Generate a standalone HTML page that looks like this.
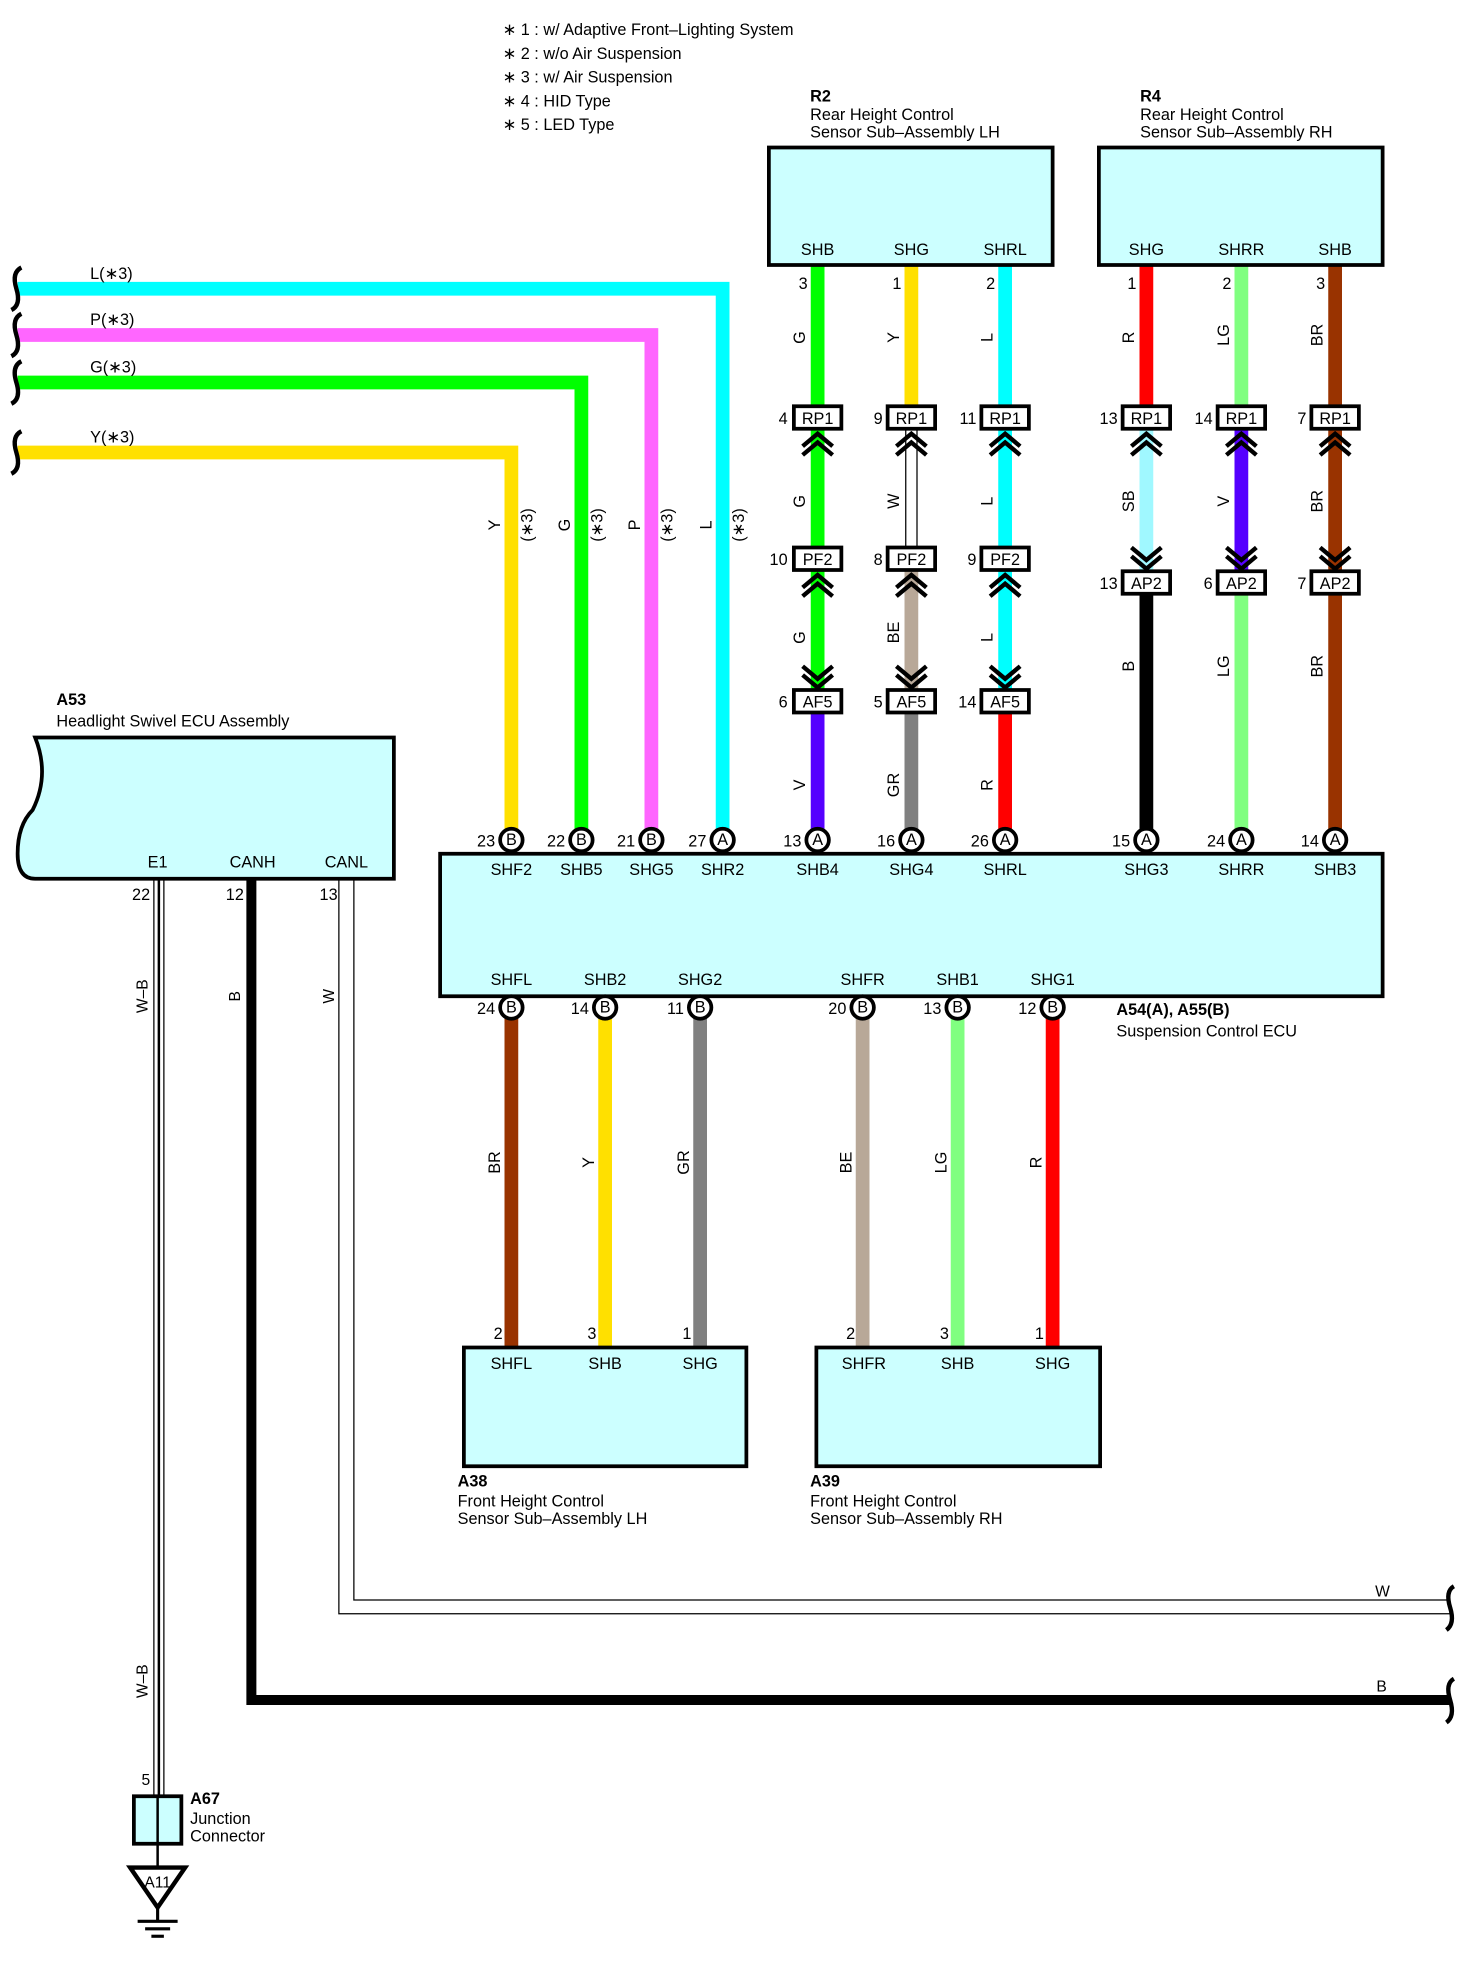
<!DOCTYPE html>
<html><head><meta charset="utf-8"><style>
html,body{margin:0;padding:0;background:#fff}
svg{display:block}
text{font-family:"Liberation Sans",Arial,sans-serif;font-size:13px;fill:#000}
.s{font-size:12.5px}
.b{font-weight:bold}
.c{text-anchor:middle}
.e{text-anchor:end}
</style></head><body>
<svg width="1479" height="1965" viewBox="0 0 1183 1572" xmlns="http://www.w3.org/2000/svg">
<!-- notes -->
<text x="402" y="28">∗ 1 : w/ Adaptive Front–Lighting System</text>
<text x="402" y="47">∗ 2 : w/o Air Suspension</text>
<text x="402" y="66">∗ 3 : w/ Air Suspension</text>
<text x="402" y="85">∗ 4 : HID Type</text>
<text x="402" y="104">∗ 5 : LED Type</text>

<!-- R2 / R4 titles -->
<text x="648" y="81" class="b">R2</text>
<text x="648" y="96">Rear Height Control</text>
<text x="648" y="110">Sensor Sub–Assembly LH</text>
<text x="912" y="81" class="b">R4</text>
<text x="912" y="96">Rear Height Control</text>
<text x="912" y="110">Sensor Sub–Assembly RH</text>

<!-- left horizontal wires -->
<g fill="none" stroke-width="11" stroke-linejoin="miter">
<path d="M14 231 H578 V666" stroke="#00ffff"/>
<path d="M14 268 H521 V666" stroke="#ff66ff"/>
<path d="M14 306 H465 V666" stroke="#00ff00"/>
<path d="M14 362 H409 V666" stroke="#ffe000"/>
</g>
<g fill="none" stroke="#000" stroke-width="3.5">
<path d="M17 214 q-8 4 -4 17 q4 13 -4 17"/>
<path d="M17 251 q-8 4 -4 17 q4 13 -4 17"/>
<path d="M17 289 q-8 4 -4 17 q4 13 -4 17"/>
<path d="M17 345 q-8 4 -4 17 q4 13 -4 17"/>
</g>
<text x="72" y="223">L(∗3)</text>
<text x="72" y="260">P(∗3)</text>
<text x="72" y="298">G(∗3)</text>
<text x="72" y="354">Y(∗3)</text>
<g class="s">
<text transform="translate(400,420) rotate(-90)" class="c">Y</text>
<text transform="translate(426,420) rotate(-90)" class="c">(∗3)</text>
<text transform="translate(456,420) rotate(-90)" class="c">G</text>
<text transform="translate(482,420) rotate(-90)" class="c">(∗3)</text>
<text transform="translate(512,420) rotate(-90)" class="c">P</text>
<text transform="translate(538,420) rotate(-90)" class="c">(∗3)</text>
<text transform="translate(569,420) rotate(-90)" class="c">L</text>
<text transform="translate(595,420) rotate(-90)" class="c">(∗3)</text>
</g>

<!-- R2/R4 vertical wires -->
<g stroke-width="11" fill="none">
<path d="M654 212 V334" stroke="#00ff00"/>
<path d="M654 334 V561" stroke="#00ff00"/>
<path d="M654 561 V666" stroke="#5500ff"/>
<path d="M729 212 V334" stroke="#ffe000"/>
<path d="M729 447 V561" stroke="#b8a898"/>
<path d="M729 561 V666" stroke="#808080"/>
<path d="M804 212 V561" stroke="#00ffff"/>
<path d="M804 561 V666" stroke="#ff0000"/>
<path d="M917 212 V334" stroke="#ff0000"/>
<path d="M917 334 V466" stroke="#a0f8ff"/>
<path d="M917 466 V666" stroke="#000"/>
<path d="M993 212 V334" stroke="#80ff80"/>
<path d="M993 334 V466" stroke="#5500ff"/>
<path d="M993 466 V666" stroke="#80ff80"/>
<path d="M1068 212 V666" stroke="#993300"/>
</g>
<!-- W wire -->
<rect x="724.5" y="340" width="9" height="110" fill="#fff" stroke="#000" stroke-width="1"/>

<!-- Boxes R2 R4 -->
<rect x="615" y="118" width="227" height="94" fill="#ccffff" stroke="#000" stroke-width="3"/>
<rect x="879" y="118" width="227" height="94" fill="#ccffff" stroke="#000" stroke-width="3"/>
<g class="c">
<text x="654" y="204">SHB</text><text x="729" y="204">SHG</text><text x="804" y="204">SHRL</text>
<text x="917" y="204">SHG</text><text x="993" y="204">SHRR</text><text x="1068" y="204">SHB</text>
</g>
<g class="s e">
<text x="646" y="231">3</text><text x="721" y="231">1</text><text x="796" y="231">2</text>
<text x="909" y="231">1</text><text x="985" y="231">2</text><text x="1060" y="231">3</text>
</g>
<!-- wire color labels -->
<g class="s c">
<text transform="translate(644,270) rotate(-90)">G</text>
<text transform="translate(719,270) rotate(-90)">Y</text>
<text transform="translate(794,270) rotate(-90)">L</text>
<text transform="translate(907,270) rotate(-90)">R</text>
<text transform="translate(983,268) rotate(-90)">LG</text>
<text transform="translate(1058,268) rotate(-90)">BR</text>
<text transform="translate(644,401) rotate(-90)">G</text>
<text transform="translate(719,401) rotate(-90)">W</text>
<text transform="translate(794,401) rotate(-90)">L</text>
<text transform="translate(907,401) rotate(-90)">SB</text>
<text transform="translate(983,401) rotate(-90)">V</text>
<text transform="translate(1058,401) rotate(-90)">BR</text>
<text transform="translate(644,510) rotate(-90)">G</text>
<text transform="translate(719,506) rotate(-90)">BE</text>
<text transform="translate(794,510) rotate(-90)">L</text>
<text transform="translate(907,533) rotate(-90)">B</text>
<text transform="translate(983,533) rotate(-90)">LG</text>
<text transform="translate(1058,533) rotate(-90)">BR</text>
<text transform="translate(644,628) rotate(-90)">V</text>
<text transform="translate(719,628) rotate(-90)">GR</text>
<text transform="translate(794,628) rotate(-90)">R</text>
</g>

<!-- chevrons -->
<g fill="none" stroke="#000" stroke-width="3.5">
<!-- up chevrons below RP1 and PF2 -->
<path d="M642 357 l12 -10 l12 10 M642 364 l12 -10 l12 10"/>
<path d="M717 357 l12 -10 l12 10 M717 364 l12 -10 l12 10"/>
<path d="M792 357 l12 -10 l12 10 M792 364 l12 -10 l12 10"/>
<path d="M905 357 l12 -10 l12 10 M905 364 l12 -10 l12 10"/>
<path d="M981 357 l12 -10 l12 10 M981 364 l12 -10 l12 10"/>
<path d="M1056 357 l12 -10 l12 10 M1056 364 l12 -10 l12 10"/>
<path d="M642 470 l12 -10 l12 10 M642 477 l12 -10 l12 10"/>
<path d="M717 470 l12 -10 l12 10 M717 477 l12 -10 l12 10"/>
<path d="M792 470 l12 -10 l12 10 M792 477 l12 -10 l12 10"/>
<!-- down chevrons above AF5 -->
<path d="M642 533 l12 10 l12 -10 M642 540 l12 10 l12 -10"/>
<path d="M717 533 l12 10 l12 -10 M717 540 l12 10 l12 -10"/>
<path d="M792 533 l12 10 l12 -10 M792 540 l12 10 l12 -10"/>
<!-- down chevrons above AP2 -->
<path d="M905 438 l12 10 l12 -10 M905 445 l12 10 l12 -10"/>
<path d="M981 438 l12 10 l12 -10 M981 445 l12 10 l12 -10"/>
<path d="M1056 438 l12 10 l12 -10 M1056 445 l12 10 l12 -10"/>
</g>

<!-- connector boxes -->
<g fill="#fff" stroke="#000" stroke-width="3">
<rect x="635" y="325" width="38" height="18"/><rect x="710" y="325" width="38" height="18"/><rect x="785" y="325" width="38" height="18"/>
<rect x="898" y="325" width="38" height="18"/><rect x="974" y="325" width="38" height="18"/><rect x="1049" y="325" width="38" height="18"/>
<rect x="635" y="438" width="38" height="18"/><rect x="710" y="438" width="38" height="18"/><rect x="785" y="438" width="38" height="18"/>
<rect x="635" y="552" width="38" height="18"/><rect x="710" y="552" width="38" height="18"/><rect x="785" y="552" width="38" height="18"/>
<rect x="898" y="457" width="38" height="18"/><rect x="974" y="457" width="38" height="18"/><rect x="1049" y="457" width="38" height="18"/>
</g>
<g class="c">
<text x="654" y="339">RP1</text><text x="729" y="339">RP1</text><text x="804" y="339">RP1</text>
<text x="917" y="339">RP1</text><text x="993" y="339">RP1</text><text x="1068" y="339">RP1</text>
<text x="654" y="452">PF2</text><text x="729" y="452">PF2</text><text x="804" y="452">PF2</text>
<text x="654" y="566">AF5</text><text x="729" y="566">AF5</text><text x="804" y="566">AF5</text>
<text x="917" y="471">AP2</text><text x="993" y="471">AP2</text><text x="1068" y="471">AP2</text>
</g>
<g class="e">
<text x="630" y="339">4</text><text x="706" y="339">9</text><text x="781" y="339">11</text>
<text x="894" y="339">13</text><text x="970" y="339">14</text><text x="1045" y="339">7</text>
<text x="630" y="452">10</text><text x="706" y="452">8</text><text x="781" y="452">9</text>
<text x="630" y="566">6</text><text x="706" y="566">5</text><text x="781" y="566">14</text>
<text x="894" y="471">13</text><text x="970" y="471">6</text><text x="1045" y="471">7</text>
</g>

<!-- Suspension ECU -->
<rect x="352" y="683" width="754" height="114" fill="#ccffff" stroke="#000" stroke-width="3"/>
<g class="c">
<text x="409" y="700">SHF2</text><text x="465" y="700">SHB5</text><text x="521" y="700">SHG5</text><text x="578" y="700">SHR2</text>
<text x="654" y="700">SHB4</text><text x="729" y="700">SHG4</text><text x="804" y="700">SHRL</text>
<text x="917" y="700">SHG3</text><text x="993" y="700">SHRR</text><text x="1068" y="700">SHB3</text>
<text x="409" y="788">SHFL</text><text x="484" y="788">SHB2</text><text x="560" y="788">SHG2</text>
<text x="690" y="788">SHFR</text><text x="766" y="788">SHB1</text><text x="842" y="788">SHG1</text>
</g>
<text x="893" y="812" class="b">A54(A), A55(B)</text>
<text x="893" y="829">Suspension Control ECU</text>

<!-- bottom wires -->
<g stroke-width="11" fill="none">
<path d="M409 806 V1078" stroke="#993300"/>
<path d="M484 806 V1078" stroke="#ffe000"/>
<path d="M560 806 V1078" stroke="#808080"/>
<path d="M690 806 V1078" stroke="#b8a898"/>
<path d="M766 806 V1078" stroke="#80ff80"/>
<path d="M842 806 V1078" stroke="#ff0000"/>
</g>
<g class="s c">
<text transform="translate(400,930) rotate(-90)">BR</text>
<text transform="translate(475,930) rotate(-90)">Y</text>
<text transform="translate(551,930) rotate(-90)">GR</text>
<text transform="translate(681,930) rotate(-90)">BE</text>
<text transform="translate(757,930) rotate(-90)">LG</text>
<text transform="translate(833,930) rotate(-90)">R</text>
</g>

<!-- pin circles -->
<g fill="#fff" stroke="#000" stroke-width="3">
<circle cx="409" cy="672" r="9"/><circle cx="465" cy="672" r="9"/><circle cx="521" cy="672" r="9"/><circle cx="578" cy="672" r="9"/>
<circle cx="654" cy="672" r="9"/><circle cx="729" cy="672" r="9"/><circle cx="804" cy="672" r="9"/>
<circle cx="917" cy="672" r="9"/><circle cx="993" cy="672" r="9"/><circle cx="1068" cy="672" r="9"/>
<circle cx="409" cy="806" r="9"/><circle cx="484" cy="806" r="9"/><circle cx="560" cy="806" r="9"/>
<circle cx="690" cy="806" r="9"/><circle cx="766" cy="806" r="9"/><circle cx="842" cy="806" r="9"/>
</g>
<g class="c" style="font-size:11px">
<text x="409" y="676">B</text><text x="465" y="676">B</text><text x="521" y="676">B</text><text x="578" y="676">A</text>
<text x="654" y="676">A</text><text x="729" y="676">A</text><text x="804" y="676">A</text>
<text x="917" y="676">A</text><text x="993" y="676">A</text><text x="1068" y="676">A</text>
<text x="409" y="810">B</text><text x="484" y="810">B</text><text x="560" y="810">B</text>
<text x="690" y="810">B</text><text x="766" y="810">B</text><text x="842" y="810">B</text>
</g>
<g class="e">
<text x="396" y="677">23</text><text x="452" y="677">22</text><text x="508" y="677">21</text><text x="565" y="677">27</text>
<text x="641" y="677">13</text><text x="716" y="677">16</text><text x="791" y="677">26</text>
<text x="904" y="677">15</text><text x="980" y="677">24</text><text x="1055" y="677">14</text>
<text x="396" y="811">24</text><text x="471" y="811">14</text><text x="547" y="811">11</text>
<text x="677" y="811">20</text><text x="753" y="811">13</text><text x="829" y="811">12</text>
</g>

<!-- A38 / A39 -->
<rect x="371" y="1078" width="226" height="95" fill="#ccffff" stroke="#000" stroke-width="3"/>
<rect x="653" y="1078" width="227" height="95" fill="#ccffff" stroke="#000" stroke-width="3"/>
<g class="c">
<text x="409" y="1095">SHFL</text><text x="484" y="1095">SHB</text><text x="560" y="1095">SHG</text>
<text x="691" y="1095">SHFR</text><text x="766" y="1095">SHB</text><text x="842" y="1095">SHG</text>
</g>
<g class="s e">
<text x="402" y="1071">2</text><text x="477" y="1071">3</text><text x="553" y="1071">1</text>
<text x="684" y="1071">2</text><text x="759" y="1071">3</text><text x="835" y="1071">1</text>
</g>
<text x="366" y="1189" class="b">A38</text>
<text x="366" y="1205">Front Height Control</text>
<text x="366" y="1219">Sensor Sub–Assembly LH</text>
<text x="648" y="1189" class="b">A39</text>
<text x="648" y="1205">Front Height Control</text>
<text x="648" y="1219">Sensor Sub–Assembly RH</text>

<!-- A53 -->
<text x="45" y="564" class="b">A53</text>
<text x="45" y="581">Headlight Swivel ECU Assembly</text>
<path d="M28 590 H315 V703 H28 Q14 703 14 683 Q14 660 26 648 Q40 620 28 590 Z" fill="#ccffff" stroke="#000" stroke-width="3"/>
<g class="c">
<text x="126" y="694">E1</text><text x="202" y="694">CANH</text><text x="277" y="694">CANL</text>
</g>
<g class="s e">
<text x="120" y="720">22</text><text x="195" y="720">12</text><text x="270" y="720">13</text>
</g>

<!-- E1 W-B wire -->
<rect x="123" y="704" width="8" height="733" fill="#fff" stroke="#000" stroke-width="1"/>
<line x1="127" y1="704" x2="127" y2="1437" stroke="#000" stroke-width="2"/>
<text transform="translate(118,797) rotate(-90)" class="s c">W–B</text>
<text transform="translate(118,1345) rotate(-90)" class="s c">W–B</text>
<text x="120" y="1428" class="s e">5</text>

<!-- CANH B -->
<path d="M201 704 V1360 H1160" fill="none" stroke="#000" stroke-width="8"/>
<text transform="translate(192,797) rotate(-90)" class="s c">B</text>
<text x="1101" y="1353" class="s">B</text>
<path d="M1163 1343 q-7 4 -3 17 q4 13 -3 18" fill="none" stroke="#000" stroke-width="3.5"/>

<!-- CANL W -->
<path d="M271 704 V1291 H1160 M283 704 V1280 H1160" fill="none" stroke="#000" stroke-width="1"/>
<text transform="translate(267,797) rotate(-90)" class="s c">W</text>
<text x="1100" y="1277" class="s">W</text>
<path d="M1163 1269 q-7 4 -3 17 q4 13 -3 18" fill="none" stroke="#000" stroke-width="3.5"/>

<!-- A67 junction + ground -->
<rect x="107" y="1437" width="38" height="38" fill="#ccffff" stroke="#000" stroke-width="3"/>
<line x1="126" y1="1437" x2="126" y2="1493" stroke="#000" stroke-width="2"/>
<text x="152" y="1443" class="b">A67</text>
<text x="152" y="1459">Junction</text>
<text x="152" y="1473">Connector</text>
<path d="M104 1494 H148 L126 1526 Z" fill="#fff" stroke="#000" stroke-width="3.5"/>
<text x="126" y="1510" class="s c">A11</text>
<line x1="126" y1="1526" x2="126" y2="1537" stroke="#000" stroke-width="2.5"/>
<g stroke="#000" stroke-width="2.5">
<line x1="110" y1="1537" x2="142" y2="1537"/>
<line x1="116" y1="1543" x2="136" y2="1543"/>
<line x1="121" y1="1549" x2="131" y2="1549"/>
</g>
</svg>
</body></html>
